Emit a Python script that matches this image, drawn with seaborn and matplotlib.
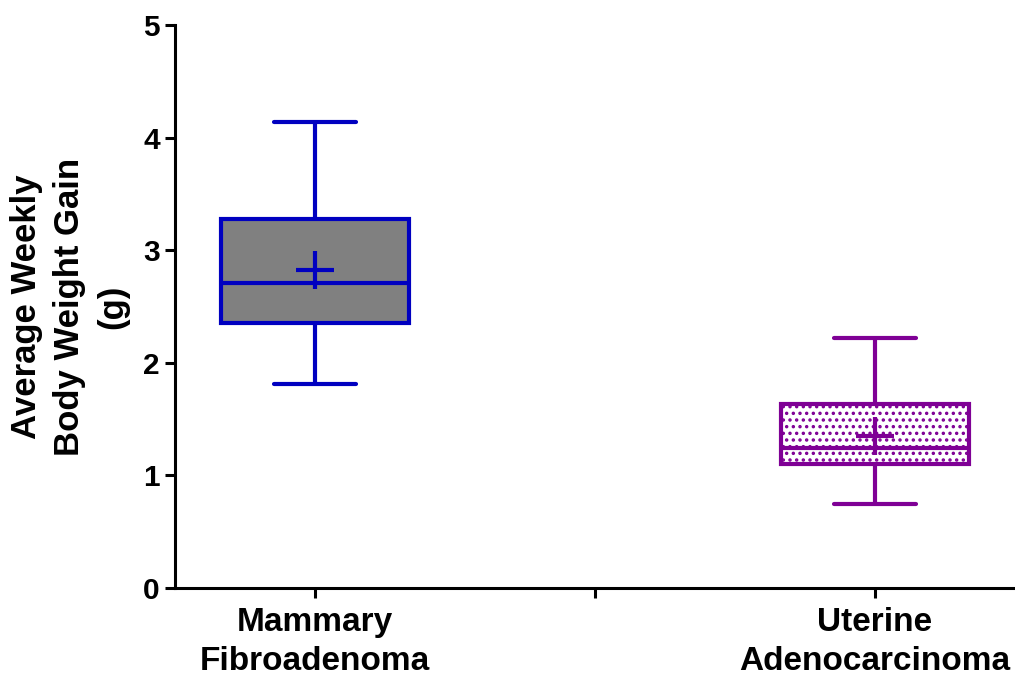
import numpy as np
import pandas as pd
import matplotlib
matplotlib.use("Agg")
import matplotlib.pyplot as plt
import seaborn as sns

# Five-number summaries (min, Q1, median, Q3, max) and group means
groups = ["Mammary\nFibroadenoma", "Uterine\nAdenocarcinoma"]
mammary_summary = [1.81, 2.35, 2.71, 3.28, 4.14]
uterine_summary = [0.75, 1.10, 1.24, 1.63, 2.22]
means = [2.82, 1.35]
y_ticks = [0, 1, 2, 3, 4, 5]

fill_colors = ["#808080", "white"]
edge_colors = ["#0000C0", "#7F0095"]
hatches = [None, ".."]

# Rendered at 80 dpi so the dot hatch cell is finer; sizes scaled to match
DPI = 80
S = 100 / DPI

sns.set_style("ticks")
plt.rcParams["font.family"] = ["Liberation Sans", "DejaVu Sans"]
plt.rcParams["font.weight"] = "bold"
for key in ["text.color", "axes.labelcolor", "xtick.color", "ytick.color",
            "axes.edgecolor"]:
    plt.rcParams[key] = "black"
plt.rcParams["hatch.linewidth"] = 1.5 * S

# Empty middle slot gives the unlabeled centre tick
order = [groups[0], "", groups[1]]

df = pd.DataFrame({
    "group": [groups[0]] * 5 + [groups[1]] * 5,
    "value": mammary_summary + uterine_summary,
})

fig = plt.figure(figsize=(1015 / DPI, 677 / DPI), dpi=DPI)
ax = fig.add_axes([0.1724, 0.1315, 0.8276, 0.8315])

LW = 3 * S
for i, g in enumerate(groups):
    plt.rcParams["hatch.color"] = edge_colors[i]
    n_before = len(ax.patches)
    sns.boxplot(
        data=df[df["group"] == g], x="group", y="value", order=order,
        color=fill_colors[i], linecolor=edge_colors[i], linewidth=LW,
        whis=(0, 100), width=0.67, saturation=1, fliersize=0, ax=ax,
        capwidths=0.29,
    )
    for p in ax.patches[n_before:]:
        p.set_facecolor(fill_colors[i])
        p.set_edgecolor(edge_colors[i])
        p.set_linewidth(LW)
        if hatches[i]:
            p.set_hatch(hatches[i])

# Mean markers
pos = [order.index(g) for g in groups]
for x, m, c in zip(pos, means, edge_colors):
    ax.plot([x], [m], marker="+", markersize=27 * S, markeredgewidth=LW,
            color=c, linestyle="none", zorder=5)

ax.set_xlim(-0.5, 2.5)
ax.set_ylim(0, 5)
ax.set_yticks(y_ticks)
ax.set_xlabel("")
ax.set_ylabel("Average Weekly\nBody Weight Gain\n(g)", fontsize=25 * S,
              fontweight="bold", labelpad=10 * S, linespacing=1.38)
ax.tick_params(axis="y", labelsize=21.5 * S, width=2.2 * S, length=7 * S,
               pad=4 * S)
ax.tick_params(axis="x", labelsize=24 * S, width=2.2 * S, length=7 * S,
               pad=7 * S)
for lbl in ax.get_xticklabels() + ax.get_yticklabels():
    lbl.set_fontweight("bold")
for lbl in ax.get_xticklabels():
    lbl.set_linespacing(1.3)
for s in ["top", "right"]:
    ax.spines[s].set_visible(False)
for s in ["left", "bottom"]:
    ax.spines[s].set_linewidth(2.2 * S)

fig.savefig("out.png", dpi=DPI)
